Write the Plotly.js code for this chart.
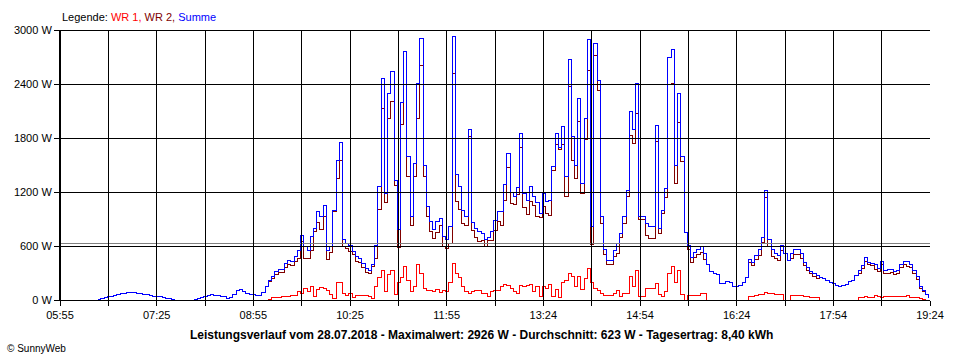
<!DOCTYPE html>
<html><head><meta charset="utf-8">
<script src="https://cdn.plot.ly/plotly-3.0.1.min.js"></script>
<style>
html,body{margin:0;padding:0;background:#fff;}
#chart{width:960px;height:360px;}
.js-plotly-plot .scatterlayer .js-line{shape-rendering:crispEdges;}
.js-plotly-plot .shapelayer path{shape-rendering:crispEdges;}
</style></head><body><div id="chart"></div>
<script>
// sampling grid of the logger: first sample 06:30, every 3 minutes
const startMinute = 390;
const sampleStep = 3;

const wr1 = [
0,0,0,0,0,0,0,0,0,0,
0,0,0,0,0,0,0,0,0,0,
0,0,0,0,0,0,0,0,0,0,
0,0,0,0,0,0,0,0,0,0,
0,0,0,0,0,0,0,0,0,0,
0,0,0,11,30,30,30,37,44,44,
48,48,90,74,130,95,150,40,120,140,
130,110,60,20,200,200,70,55,74,30,
48,48,48,45,40,20,150,250,330,100,
280,330,60,200,250,370,220,100,150,389,
300,130,110,111,100,120,80,111,100,190,
411,300,250,150,100,74,90,111,111,74,
74,40,100,111,111,150,167,160,130,90,
74,160,150,160,167,100,150,40,148,130,
167,40,120,30,200,220,300,260,150,260,
120,240,350,200,130,111,74,55,55,55,
74,110,40,74,74,260,150,333,37,37,
130,130,130,185,60,40,100,300,370,200,
330,60,0,55,55,55,55,74,74,0,
0,0,0,0,0,0,0,0,0,0,
0,0,37,37,55,60,60,80,74,74,
60,60,60,0,0,55,55,55,55,37,
37,30,30,30,0,0,0,0,0,0,
0,0,0,0,0,0,30,30,40,30,
30,55,37,30,37,37,37,37,37,37,
37,55,30,30,30,20,11,0,0
];

const wr2 = [
10,20,30,37,44,55,66,72,74,78,
81,78,74,70,63,58,50,44,40,35,
30,22,12,4,0,0,0,0,0,0,
5,20,33,40,55,63,55,48,42,35,
22,30,60,105,122,95,74,63,63,50,
45,85,148,204,236,285,310,303,363,400,
378,433,465,648,463,460,554,756,861,786,
925,445,533,980,1355,1552,597,575,537,507,
433,415,359,307,293,369,461,1009,2133,1085,
2020,2210,1270,580,1950,2389,1373,826,1368,2018,
2607,1370,927,759,678,750,827,593,567,625,
2515,1100,1009,850,826,1816,770,689,649,666,
593,660,660,769,870,831,1111,1470,1070,1060,
1176,1692,1030,950,1093,1050,930,920,1037,960,
943,1441,1732,1670,1726,1150,2367,1555,1350,1980,
1180,1779,2550,615,2722,2333,852,505,389,389,
481,520,700,852,1146,1833,1739,2074,889,889,
720,685,685,1759,740,960,1140,2400,2408,1300,
1970,1540,750,556,415,475,505,526,446,400,
320,300,278,180,185,204,200,150,148,160,
200,250,413,383,445,500,640,1140,593,486,
460,440,551,520,444,465,505,505,465,383,
323,290,260,240,255,240,222,190,180,162,
155,160,175,204,222,270,300,350,430,390,
380,335,315,400,293,298,303,283,293,363,
393,375,360,300,229,128,100,60,25
];

const summe = [
10,20,30,37,44,55,66,72,74,78,
81,78,74,70,63,58,50,44,40,35,
30,22,12,4,0,0,0,0,0,0,
5,20,33,40,55,63,55,48,42,35,
22,30,60,105,122,95,74,63,63,50,
45,85,148,215,266,315,340,340,407,444,
426,481,555,722,593,555,704,796,981,926,
1055,555,593,1000,1555,1752,667,630,611,537,
481,463,407,352,333,389,611,1259,2463,1185,
2300,2540,1330,780,2200,2759,1593,926,1518,2407,
2907,1500,1037,870,778,870,907,704,667,815,
2926,1400,1259,1000,926,1890,860,800,760,740,
667,700,760,880,981,981,1278,1630,1200,1150,
1250,1852,1180,1110,1260,1150,1080,960,1185,1090,
1110,1481,1852,1700,1926,1370,2667,1815,1500,2240,
1300,2019,2900,815,2852,2444,926,560,444,444,
555,630,740,926,1220,2093,1889,2407,926,926,
850,815,815,1944,800,1000,1240,2700,2778,1500,
2300,1600,750,611,470,530,560,600,520,400,
320,300,278,180,185,204,200,150,148,160,
200,250,450,420,500,560,700,1220,667,560,
520,500,611,520,444,520,560,560,520,420,
360,320,290,270,255,240,222,190,180,162,
155,160,175,204,222,270,330,380,470,420,
410,390,352,430,330,335,340,320,330,400,
430,430,390,330,259,148,111,60,25
];

const tickMinutes = [355,400,445,490,535,580,625,670,715,760,805,850,895,940,985,1030,1075,1120,1165];
const tickLabels = ["05:55","","07:25","","08:55","","10:25","","11:55","","13:24","","14:54","","16:24","","17:54","","19:24"];
const yTicks = [0,600,1200,1800,2400,3000];
const yTickLabels = ["0 W","600 W","1200 W","1800 W","2400 W","3000 W"];
const average = 623;

const legendText = 'Legende: <span style="color:#ff0000">WR 1,</span> <span style="color:#800000">WR 2,</span> <span style="color:#0000ff">Summe</span>';
const footerText = 'Leistungsverlauf vom 28.07.2018 - Maximalwert: 2926 W - Durchschnitt: 623 W - Tagesertrag: 8,40 kWh';
const creditText = '© SunnyWeb';

const times = summe.map((_, i) => startMinute + i * sampleStep);

const mk = (y, color, name) => ({
  x: times, y: y, type: 'scatter', mode: 'lines', name: name,
  line: {shape: 'hv', width: 1, color: color}, hoverinfo: 'skip'
});

const traces = [
  mk(wr1, '#ff0000', 'WR 1'),
  mk(wr2, '#800000', 'WR 2'),
  mk(summe, '#0000ff', 'Summe')
];

const xMin = tickMinutes[0], xMax = tickMinutes[tickMinutes.length - 1];
const yMax = yTicks[yTicks.length - 1];

const shapes = [];
shapes.push({type: 'line', xref: 'x', yref: 'y', x0: xMin, x1: xMax, y0: average, y1: average,
  line: {color: '#808080', width: 1}, layer: 'above'});
tickMinutes.forEach(t => shapes.push({type: 'line', xref: 'x', yref: 'y', x0: t, x1: t, y0: 0, y1: yMax,
  line: {color: '#000000', width: 1}, layer: 'above'}));
yTicks.forEach(v => shapes.push({type: 'line', xref: 'x', yref: 'y', x0: xMin, x1: xMax, y0: v, y1: v,
  line: {color: '#000000', width: 1}, layer: 'above'}));

const baseFont = {family: 'Liberation Sans, Arial, sans-serif', size: 11, color: '#000000'};

const layout = {
  width: 960, height: 360,
  margin: {l: 60, r: 30, t: 30, b: 60, pad: 0},
  paper_bgcolor: '#ffffff', plot_bgcolor: '#ffffff',
  showlegend: false,
  font: baseFont,
  xaxis: {
    range: [xMin, xMax], tickmode: 'array', tickvals: tickMinutes, ticktext: tickLabels,
    showgrid: true, gridcolor: '#000000', gridwidth: 1, zeroline: false,
    showline: true, linecolor: '#000000', linewidth: 1,
    ticks: 'outside', ticklen: 5, tickcolor: '#000000', tickwidth: 1,
    tickfont: baseFont, fixedrange: true
  },
  yaxis: {
    range: [0, yMax], tickmode: 'array', tickvals: yTicks, ticktext: yTickLabels,
    showgrid: true, gridcolor: '#000000', gridwidth: 1, zeroline: false,
    showline: true, linecolor: '#000000', linewidth: 1,
    ticks: 'outside', ticklen: 5, tickcolor: '#000000', tickwidth: 1,
    tickfont: baseFont, fixedrange: true
  },
  shapes: shapes,
  annotations: [
    {text: legendText, xref: 'paper', yref: 'paper', x: 0, y: 1.048, xanchor: 'left', yanchor: 'middle',
     showarrow: false, font: baseFont},
    {text: '<b>' + footerText + '</b>', xref: 'paper', yref: 'paper', x: 0.485, y: -0.13, xanchor: 'center', yanchor: 'middle',
     showarrow: false, font: {family: 'Liberation Sans, Arial, sans-serif', size: 12, color: '#000000'}},
    {text: creditText, xref: 'paper', yref: 'paper', x: -0.0632, y: -0.178, xanchor: 'left', yanchor: 'middle',
     showarrow: false, font: {family: 'Liberation Sans, Arial, sans-serif', size: 10, color: '#000000'}}
  ]
};

Plotly.newPlot('chart', traces, layout, {displayModeBar: false, staticPlot: true});
</script></body></html>
